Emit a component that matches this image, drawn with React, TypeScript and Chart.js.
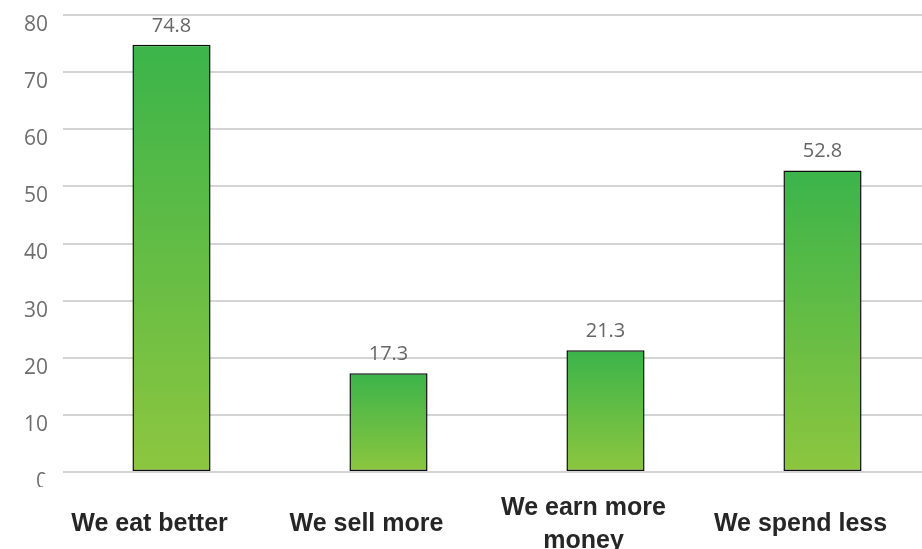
import React, { useEffect, useRef } from 'react';
import { Chart, registerables } from 'chart.js';

Chart.register(...registerables);

const categories: (string | string[])[] = ['We eat better', 'We sell more', ['We earn more', 'money'], 'We spend less'];
const values: number[] = [74.8, 17.3, 21.3, 52.8];
const yMin = 0;
const yMax = 80;
const yStep = 10;

const valueLabels = {
  id: 'valueLabels',
  afterDatasetsDraw(chart: any) {
    const { ctx } = chart;
    const meta = chart.getDatasetMeta(0);
    ctx.save();
    ctx.font = '20px "Open Sans"';
    ctx.fillStyle = '#666666';
    ctx.textAlign = 'center';
    ctx.textBaseline = 'alphabetic';
    meta.data.forEach((bar: any, i: number) => {
      ctx.fillText(values[i].toFixed(1), bar.x, bar.y - 13);
    });
    ctx.restore();
  },
};

// the reference shows only a clipped fragment of the "0" tick label
const clipZeroLabel = {
  id: 'clipZeroLabel',
  afterDraw(chart: any) {
    const { ctx, chartArea } = chart;
    const b = chartArea.bottom;
    ctx.save();
    ctx.fillStyle = '#ffffff';
    ctx.fillRect(43, b + 2, chartArea.left - 45, 24);
    ctx.fillRect(0, b + 15, chartArea.left - 2, 12);
    ctx.restore();
  },
};

export default function App() {
  const canvasRef = useRef<HTMLCanvasElement | null>(null);

  useEffect(() => {
    if (!canvasRef.current) return;
    const chart = new Chart(canvasRef.current, {
      type: 'bar',
      data: {
        labels: categories as any,
        datasets: [
          {
            data: values,
            backgroundColor: (c: any) => {
              const ch = c.chart;
              if (!ch.chartArea || c.type !== 'data') return '#66bb44';
              const ys = ch.scales.y;
              const top = ys.getPixelForValue(values[c.dataIndex]);
              const bottom = ys.getPixelForValue(0);
              const g = ch.ctx.createLinearGradient(0, top, 0, bottom);
              g.addColorStop(0, '#3bb44a');
              g.addColorStop(1, '#8dc63f');
              return g;
            },
            borderColor: '#0d0d0d',
            borderWidth: 1.5,
            borderSkipped: false,
            categoryPercentage: 1,
            barPercentage: 0.36,
          },
        ],
      },
      options: {
        animation: false,
        responsive: false,
        layout: { padding: { top: 15, left: 0, right: 0, bottom: 0 } },
        plugins: {
          legend: { display: false },
          tooltip: { enabled: false },
        },
        scales: {
          x: {
            grid: { display: false },
            border: { display: false },
            ticks: {
              font: { family: '"Liberation Sans", Arial, sans-serif', size: 25, weight: 'bold', lineHeight: 1.32 },
              color: '#262626',
              padding: 28,
              labelOffset: -22,
              crossAlign: 'center',
              maxRotation: 0,
              autoSkip: false,
            },
            afterFit: (s: any) => {
              s.height = 77;
              s.paddingLeft = 0;
              s.paddingRight = 0;
            },
          },
          y: {
            min: yMin,
            max: yMax,
            grid: { color: '#d4d4d4', lineWidth: 2, drawTicks: false },
            border: { display: false },
            ticks: {
              stepSize: yStep,
              font: { family: '"Open Sans", sans-serif', size: 21 },
              color: '#6e6e6e',
              padding: 15,
              labelOffset: 10,
            },
            afterFit: (s: any) => {
              s.width = 63;
              s.paddingTop = 0;
              s.paddingBottom = 0;
            },
          },
        },
      },
      plugins: [valueLabels, clipZeroLabel],
    });
    return () => chart.destroy();
  }, []);

  return (
    <div style={{ position: 'absolute', left: 0, top: 0, width: 922, height: 549, overflow: 'hidden', background: '#fff' }}>
      <canvas ref={canvasRef} width={931} height={549} />
    </div>
  );
}
